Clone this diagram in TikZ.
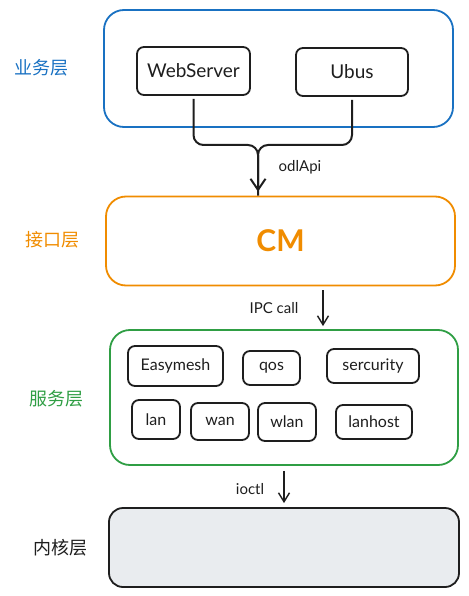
\documentclass[tikz,border=0pt]{standalone}
\usepackage{fontspec}
\setmainfont{Lato}
\newfontfamily\cjk{Noto Sans CJK SC}
\usetikzlibrary{arrows.meta,calc}
\definecolor{eblue}{HTML}{1971C2}
\definecolor{eorange}{HTML}{F08C00}
\definecolor{egreen}{HTML}{2F9E44}
\definecolor{eink}{HTML}{1E1E1E}
\definecolor{egray}{HTML}{E9ECEF}
\begin{document}
\begin{tikzpicture}[x=1pt,y=-1pt,
  layer/.style={draw, line width=1.8pt, rounded corners=20pt, inner sep=0pt},
  item/.style={draw=eink, line width=1.8pt, rounded corners=7pt, inner sep=0pt, font=\fontsize{16}{18}\selectfont, text=eink},
  side/.style={font=\cjk\fontsize{18}{20}\selectfont},
  lbl/.style={font=\fontsize{15}{17}\selectfont, text=eink},
  arr/.style={draw=eink, line width=1.4pt, -{Straight Barb[length=9pt,width=11pt,line width=1.4pt]}}
]
\useasboundingbox (0,0) rectangle (468,596);
% layers
\node[layer, draw=eblue, minimum width=349pt, minimum height=117pt] (biz) at (278.5,68.5) {};
\node[layer, draw=eorange, minimum width=349pt, minimum height=89pt, text=eorange, font=\bfseries\fontsize{30}{32}\selectfont] (cm) at (280.5,241) {CM};
\node[layer, draw=egreen, minimum width=348pt, minimum height=135pt] (svc) at (284,397.5) {};
\node[layer, draw=eink, fill=egray, minimum width=350pt, minimum height=79pt, rounded corners=14pt] (kern) at (284,547.5) {};
% side labels
\node[side, text=eblue] (l1) at (41,68) {业务层};
\node[side, text=eorange] (l2) at (52,240) {接口层};
\node[side, text=egreen] (l3) at (56,399) {服务层};
\node[side, text=eink] (l4) at (60,548) {内核层};
% business items
\node[item, minimum width=113pt, minimum height=48pt, font=\fontsize{19}{21}\selectfont] (web) at (193.5,71) {WebServer};
\node[item, minimum width=112pt, minimum height=48pt, font=\fontsize{19}{21}\selectfont] (ubus) at (352,72) {Ubus};
% service items
\node[item, minimum width=95pt, minimum height=40pt] (easy) at (175.5,366) {Easymesh};
\node[item, minimum width=57pt, minimum height=34pt] (qos) at (271.5,368) {qos};
\node[item, minimum width=92pt, minimum height=34pt] (sec) at (373,366) {sercurity};
\node[item, minimum width=48pt, minimum height=39pt] (lan) at (156,419.5) {lan};
\node[item, minimum width=58pt, minimum height=37pt] (wan) at (220,421.5) {wan};
\node[item, minimum width=58pt, minimum height=38pt] (wlan) at (287,422) {wlan};
\node[item, minimum width=76pt, minimum height=34pt] (lanhost) at (374,422) {lanhost};
% merged connector
\coordinate (m) at (258,145);
\draw[eink, line width=2pt, rounded corners=10pt, shorten <=3pt] (web.south) |- (m) -- (cm.north -| m);
\draw[eink, line width=2pt, rounded corners=10pt, shorten <=3pt, shorten >=4pt, -{Straight Barb[length=11pt,width=15pt,line width=2pt]}] (ubus.south) |- (m) -- (cm.north -| m);
\node[lbl] (odl) at (300,167) {odlApi};
% IPC call
\coordinate (ipcx) at (323,0);
\draw[arr, shorten <=4pt, shorten >=3pt] (cm.south -| ipcx) -- (svc.north -| ipcx);
\node[lbl] (ipc) at (274,308) {IPC call};
% ioctl
\coordinate (ioctlx) at (284,0);
\draw[arr, shorten <=5pt, shorten >=4pt] (svc.south -| ioctlx) -- (kern.north -| ioctlx);
\node[lbl] (ioc) at (250,489) {ioctl};
\end{tikzpicture}
\end{document}
